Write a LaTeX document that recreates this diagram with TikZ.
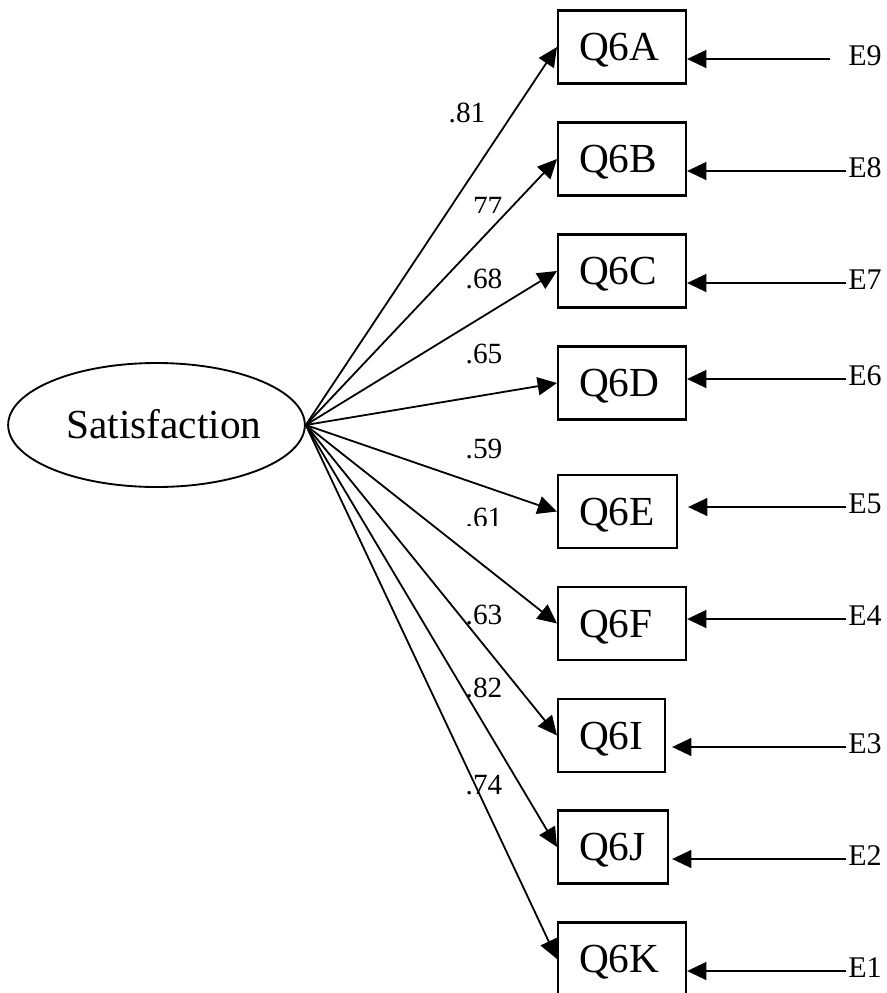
\documentclass[tikz,border=0pt]{standalone}
\usepackage{fontspec}
\setmainfont{Liberation Serif}
\usetikzlibrary{shapes.geometric,arrows.meta}

\tikzset{
  latent/.style={ellipse, draw, line width=1.4pt, inner sep=0pt,
    minimum width=215.25pt, minimum height=93pt,
    font=\fontsize{31}{36}\selectfont, text height=20.5pt, text depth=0pt},
  obs/.style={rectangle, draw, line width=1.6pt, anchor=west,
    inner xsep=15.75pt, inner ysep=0pt, minimum height=54.75pt,
    font=\fontsize{31}{36}\selectfont, text height=20.5pt, text depth=0pt},
  errlabel/.style={anchor=west, inner xsep=1.5pt, inner ysep=0pt,
    font=\fontsize{22.5}{26}\selectfont, text height=14.85pt, text depth=4.5pt},
  loading/.style={inner sep=0pt, font=\fontsize{22}{26}\selectfont,
    text height=14.9pt, text depth=0pt},
  path/.style={line width=1.35pt, -{Triangle[length=14.5pt,width=13.5pt]}},
}

\begin{document}
\begin{tikzpicture}[x=0.75pt,y=-0.75pt]
  \useasboundingbox (0,0) rectangle (887,993);

  % latent factor
  \node[latent] (sat) at (156.5,425) {\hspace*{11pt}Satisfaction};

  % observed indicators (text set flush left inside each box)
  \node[obs] (q6a) at (557,47)    {\makebox[64.5pt][l]{Q6A}};
  \node[obs] (q6b) at (557,159)   {\makebox[64.5pt][l]{Q6B}};
  \node[obs] (q6c) at (557,271)   {\makebox[64.5pt][l]{Q6C}};
  \node[obs] (q6d) at (557,383)   {\makebox[64.5pt][l]{Q6D}};
  \node[obs] (q6e) at (557,511.5) {\makebox[57.75pt][l]{Q6E}};
  \node[obs] (q6f) at (557,623.5) {\makebox[64.5pt][l]{Q6F}};
  \node[obs] (q6i) at (557,735.5) {\makebox[48.75pt][l]{Q6I}};
  \node[obs] (q6j) at (557,847)   {\makebox[51pt][l]{Q6J}};
  \node[obs] (q6k) at (557,959)   {\makebox[64.5pt][l]{Q6K}};

  % error terms
  \node[errlabel] (e9) at (846,59)  {E9};
  \node[errlabel] (e8) at (846,171) {E8};
  \node[errlabel] (e7) at (846,283) {E7};
  \node[errlabel] (e6) at (846,379) {E6};
  \node[errlabel] (e5) at (846,507) {E5};
  \node[errlabel] (e4) at (846,619) {E4};
  \node[errlabel] (e3) at (846,747) {E3};
  \node[errlabel] (e2) at (846,859) {E2};
  \node[errlabel] (e1) at (846,971) {E1};

  % factor loadings
  \foreach \q in {q6a,q6b,q6c,q6d,q6e,q6f,q6i,q6j,q6k}
    \draw[path] (sat.east) -- (\q.west);

  % error paths
  \draw[path, shorten <=12pt] (e9.west) -- (e9.west -| q6a.east);
  \draw[path] (e8.west) -- (e8.west -| q6b.east);
  \draw[path] (e7.west) -- (e7.west -| q6c.east);
  \draw[path] (e6.west) -- (e6.west -| q6d.east);
  \draw[path, shorten >=7.5pt] (e5.west) -- (e5.west -| q6e.east);
  \draw[path] (e4.west) -- (e4.west -| q6f.east);
  \draw[path, shorten >=4.5pt] (e3.west) -- (e3.west -| q6i.east);
  \draw[path, shorten >=2.25pt] (e2.west) -- (e2.west -| q6j.east);
  \draw[path] (e1.west) -- (e1.west -| q6k.east);

  % loading values
  \node[loading] (l81) at (467,113) {.81};
  \begin{scope}
    \clip (440,180) rectangle (520,212);
    \node[loading] (l77) at (484,207) {.77};
  \end{scope}
  \node[loading] (l68) at (484,279) {.68};
  \node[loading] (l65) at (484,354) {.65};
  \node[loading] (l59) at (484,449) {.59};
  \begin{scope}
    \clip (440,495) rectangle (520,525);
    \node[loading] (l61) at (484,518) {.61};
  \end{scope}
  \node[loading] (l63) at (484,615) {.63};
  \node[loading] (l82) at (484,688) {.82};
  \node[loading] (l74) at (484,785) {.74};
\end{tikzpicture}
\end{document}
